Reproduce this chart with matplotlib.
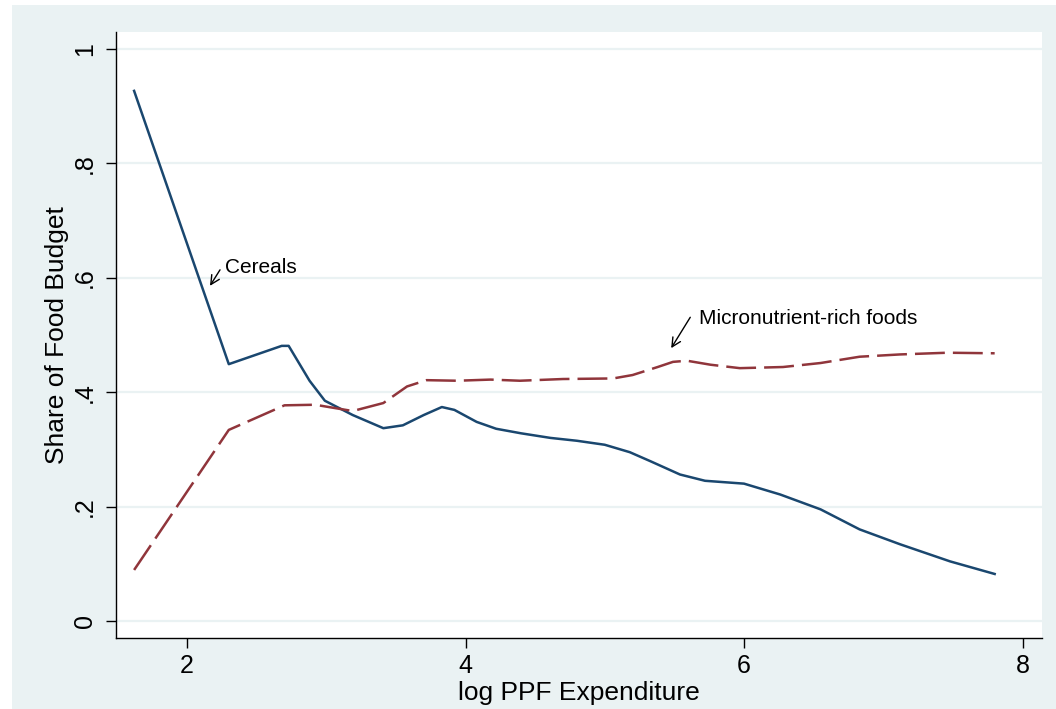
import matplotlib
matplotlib.use("Agg")
import matplotlib.pyplot as plt
from matplotlib.patches import Rectangle

plt.rcParams['font.family'] = ['Liberation Sans', 'DejaVu Sans']
plt.rcParams['lines.scale_dashes'] = False

# Cereals share of food budget
cereals_x = [1.62, 2.30, 2.68, 2.73, 2.88, 2.99, 3.19, 3.41, 3.55, 3.70, 3.83, 3.92, 4.08,
             4.22, 4.40, 4.61, 4.80, 5.00, 5.18, 5.33, 5.54, 5.72, 6.00, 6.26, 6.55,
             6.83, 7.12, 7.48, 7.80]
cereals_y = [0.927, 0.449, 0.481, 0.481, 0.420, 0.385, 0.360, 0.337, 0.342, 0.360, 0.374, 0.369, 0.348,
             0.336, 0.328, 0.320, 0.315, 0.308, 0.295, 0.279, 0.256, 0.245, 0.240, 0.221, 0.195,
             0.160, 0.134, 0.104, 0.082]

# Micronutrient-rich foods share of food budget
micro_x = [1.62, 2.30, 2.70, 2.92, 3.19, 3.41, 3.58, 3.72, 3.94, 4.18, 4.39, 4.70, 5.06,
           5.20, 5.38, 5.49, 5.59, 5.76, 5.97, 6.28, 6.55, 6.83, 7.12, 7.46, 7.80]
micro_y = [0.089, 0.334, 0.377, 0.378, 0.367, 0.381, 0.410, 0.421, 0.420, 0.422, 0.420, 0.423, 0.424,
           0.430, 0.444, 0.453, 0.455, 0.448, 0.442, 0.444, 0.451, 0.462, 0.466, 0.469, 0.468]

x_ticks = [2, 4, 6, 8]
y_ticks = [0, 0.2, 0.4, 0.6, 0.8, 1.0]
y_tick_labels = ["0", ".2", ".4", ".6", ".8", "1"]

BG = '#EAF2F3'
NAVY = '#1A476F'
MAROON = '#90353B'

fig = plt.figure(figsize=(10.56, 7.09), dpi=100)
fig.patch.set_facecolor('white')
fig.patches.append(Rectangle((12 / 1056, 0), 1 - 12 / 1056, 1 - 5 / 709,
                             transform=fig.transFigure, facecolor=BG,
                             edgecolor='none', zorder=-10))

ax = fig.add_axes([116 / 1056, 1 - 638 / 709, (1042 - 116) / 1056, (638 - 32) / 709])
ax.set_facecolor('white')

ax.plot(cereals_x, cereals_y, color=NAVY, lw=1.8, zorder=3)
ax.plot(micro_x, micro_y, color=MAROON, lw=1.8, dashes=(21.5, 5.8), zorder=3)

ax.set_xlim(1.49, 8.14)
ax.set_ylim(-0.03, 1.03)
ax.set_xticks(x_ticks)
ax.set_xticklabels([str(t) for t in x_ticks])
ax.set_yticks(y_ticks)
ax.set_yticklabels(y_tick_labels, rotation=90, va='center')

for yv in y_ticks:
    ax.axhline(yv, color=BG, lw=1.6, zorder=1)

for s in ['top', 'right']:
    ax.spines[s].set_visible(False)
for s in ['left', 'bottom']:
    ax.spines[s].set_color('black')
    ax.spines[s].set_linewidth(1.0)

ax.tick_params(axis='both', direction='out', length=7.5, width=1.0, labelsize=18,
               color='black')
ax.tick_params(axis='y', pad=6)
ax.tick_params(axis='x', pad=4)

ax.set_xlabel('log PPF Expenditure', fontsize=19, labelpad=2)
ax.set_ylabel('Share of Food Budget', fontsize=19, labelpad=3)

ax.annotate('', xy=(2.165, 0.586), xytext=(2.237, 0.614),
            arrowprops=dict(arrowstyle='->', color='black', lw=1.0,
                            shrinkA=0, shrinkB=0, mutation_scale=16))
ax.text(2.275, 0.618, 'Cereals', fontsize=15, va='center', ha='left')

ax.annotate('', xy=(5.477, 0.477), xytext=(5.614, 0.531),
            arrowprops=dict(arrowstyle='->', color='black', lw=1.0,
                            shrinkA=0, shrinkB=0, mutation_scale=16))
ax.text(5.68, 0.528, 'Micronutrient-rich foods', fontsize=15, va='center', ha='left')

fig.savefig('out.png', dpi=100)
